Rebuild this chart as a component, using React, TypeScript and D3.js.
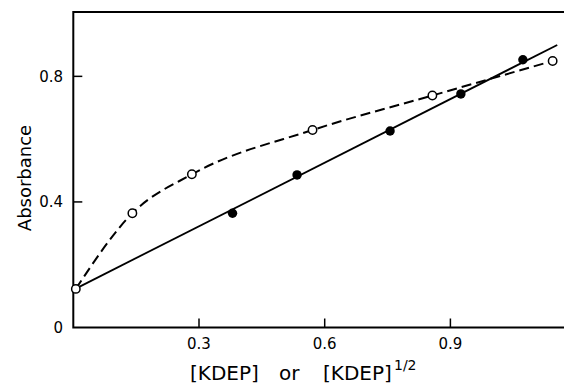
import * as d3 from "d3";

// [KDEP] series (filled circles) and its straight fit
const kdepX = [0.38, 0.534, 0.756, 0.925, 1.073];
const kdepY = [0.364, 0.486, 0.626, 0.744, 0.853];
const fitX = [0, 1.155];
const fitY = [0.12, 0.9];

// [KDEP]^1/2 series (open circles), dashed curve
const rootX = [0.006, 0.141, 0.283, 0.571, 0.857, 1.144];
const rootY = [0.123, 0.364, 0.488, 0.629, 0.739, 0.849];

const xTicks = [0.3, 0.6, 0.9];
const xTickLabels = ["0.3", "0.6", "0.9"];
const yTicks = [0, 0.4, 0.8];
const yTickLabels = ["0", "0.4", "0.8"];

const W = 564;
const H = 385;
const font = "'DejaVu Sans', sans-serif";

export default function App() {
  const x = d3.scaleLinear().domain([0, 1.2]).range([73.3, 73.3 + 1.2 * 419]);
  const y = d3.scaleLinear().domain([0, 1.005]).range([327.5, 12]);
  const x0 = x(0);
  const y0 = y(0);
  const yTop = y(1.005);

  const pts = (xs: number[], ys: number[]) => xs.map((v, i) => [v, ys[i]] as [number, number]);

  const straight = d3
    .line<[number, number]>()
    .x((p) => x(p[0]))
    .y((p) => y(p[1]));
  const curved = d3
    .line<[number, number]>()
    .x((p) => x(p[0]))
    .y((p) => y(p[1]))
    .curve(d3.curveMonotoneX);

  return (
    <svg
      width={W}
      height={H}
      style={{ position: "fixed", left: 0, top: 0, background: "#fff" }}
    >
      <rect width={W} height={H} fill="#fff" />
      {/* frame: left axis, bottom axis, top line */}
      <path
        d={`M${W},${yTop}H${x0}V${y0}H${W}`}
        fill="none"
        stroke="#000"
        strokeWidth={2}
      />
      {/* inward ticks */}
      {xTicks.map((t) => (
        <line key={"xt" + t} x1={x(t)} x2={x(t)} y1={y0} y2={y0 - 9} stroke="#000" strokeWidth={1.5} />
      ))}
      {yTicks.slice(1).map((t) => (
        <line key={"yt" + t} x1={x0} x2={x0 + 9} y1={y(t)} y2={y(t)} stroke="#000" strokeWidth={1.5} />
      ))}
      {xTicks.map((t, i) => (
        <text key={"xl" + t} x={x(t)} y={349} textAnchor="middle" fontFamily={font} fontSize={15}>
          {xTickLabels[i]}
        </text>
      ))}
      {yTicks.map((t, i) => (
        <text
          key={"yl" + t}
          x={63}
          y={y(t)}
          dy="0.36em"
          textAnchor="end"
          fontFamily={font}
          fontSize={15}
        >
          {yTickLabels[i]}
        </text>
      ))}
      {/* axis titles */}
      <text
        transform={`translate(31,178) rotate(-90)`}
        textAnchor="middle"
        fontFamily={font}
        fontSize={18}
      >
        Absorbance
      </text>
      <text y={380} fontFamily={font} fontSize={20}>
        <tspan x={190}>[KDEP]</tspan>
        <tspan x={279}>or</tspan>
        <tspan x={323}>[KDEP]</tspan>
        <tspan x={394} dy={-10} fontSize={14}>1/2</tspan>
      </text>
      {/* lines */}
      <path d={straight(pts(fitX, fitY)) ?? ""} fill="none" stroke="#000" strokeWidth={1.8} />
      <path
        d={curved(pts(rootX, rootY)) ?? ""}
        fill="none"
        stroke="#000"
        strokeWidth={2}
        strokeDasharray="10 5"
      />
      {/* markers */}
      {kdepX.map((v, i) => (
        <circle key={"k" + i} cx={x(v)} cy={y(kdepY[i])} r={4.7} fill="#000" />
      ))}
      {rootX.map((v, i) => (
        <circle
          key={"r" + i}
          cx={x(v)}
          cy={y(rootY[i])}
          r={4.2}
          fill="#fff"
          stroke="#000"
          strokeWidth={1.5}
        />
      ))}
    </svg>
  );
}
